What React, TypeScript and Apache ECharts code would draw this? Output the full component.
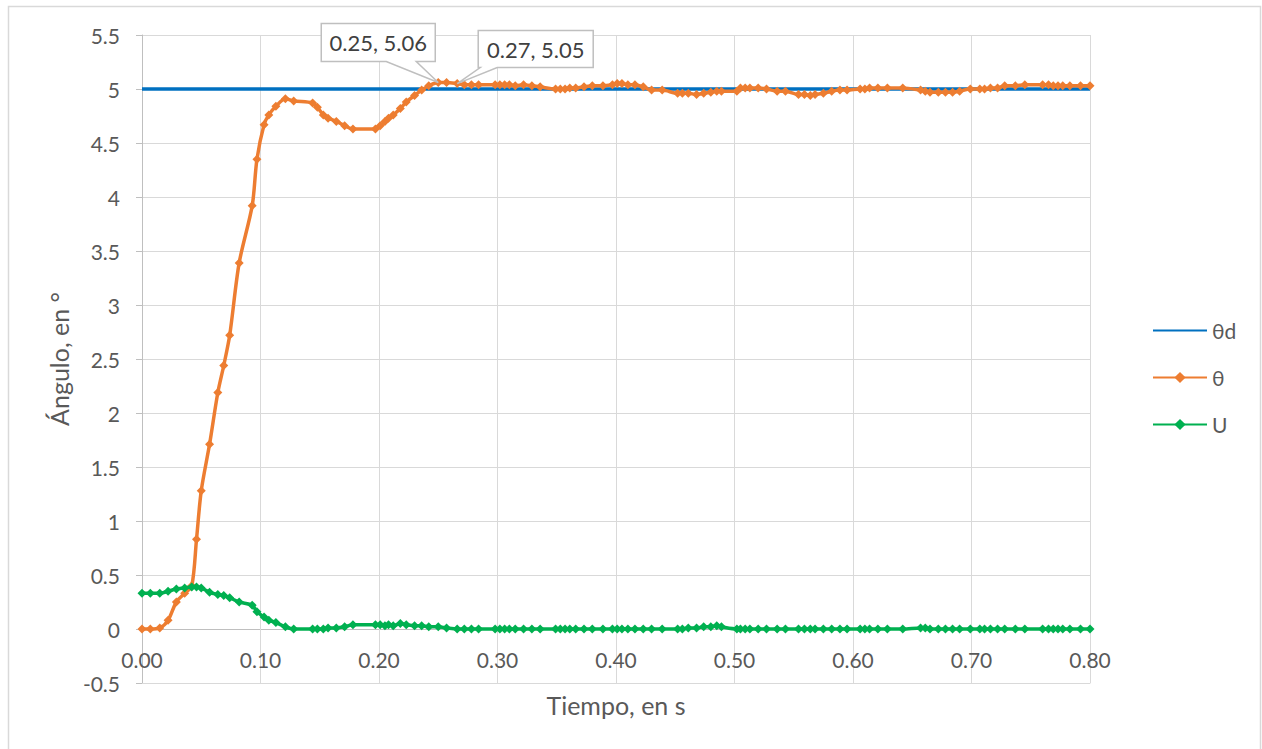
import React, { useEffect, useRef } from "react";
import * as echarts from "echarts";

// Time samples (s)
const T = [
  0.000, 0.007, 0.015, 0.022, 0.029, 0.036, 0.042, 0.046, 0.050, 0.057, 0.064, 0.069, 0.074, 0.082, 0.093, 0.097, 0.103, 0.107, 0.113, 0.121, 0.128,
  0.144, 0.148, 0.153, 0.157, 0.164, 0.171, 0.178, 0.197, 0.201, 0.205, 0.208, 0.212, 0.218, 0.223, 0.230, 0.236, 0.242, 0.250, 0.257, 0.266, 0.272, 0.278, 0.284,
  0.298, 0.302, 0.306, 0.310, 0.315, 0.322, 0.329, 0.336,
  0.349, 0.353, 0.357, 0.361, 0.366, 0.373, 0.380, 0.389,
  0.397, 0.401, 0.405, 0.410, 0.416, 0.423, 0.430, 0.439,
  0.452, 0.456, 0.461, 0.468, 0.474, 0.480, 0.485, 0.489,
  0.502, 0.505, 0.509, 0.513, 0.520, 0.527, 0.536, 0.543, 0.554, 0.559, 0.564, 0.568, 0.575, 0.582, 0.589, 0.595,
  0.606, 0.610, 0.614, 0.621, 0.629, 0.642,
  0.657, 0.661, 0.665, 0.672, 0.678, 0.684, 0.690, 0.699,
  0.707, 0.711, 0.716, 0.722, 0.728, 0.737, 0.745,
  0.760, 0.765, 0.769, 0.773, 0.777, 0.783, 0.792, 0.800,
];

// Measured angle θ (°)
const THETA = [
  0.00, 0.00, 0.01, 0.08, 0.25, 0.33, 0.40, 0.83, 1.28, 1.71, 2.19, 2.44, 2.72, 3.39, 3.92, 4.35, 4.67, 4.76, 4.84, 4.91, 4.89,
  4.87, 4.83, 4.76, 4.73, 4.70, 4.66, 4.63, 4.63, 4.66, 4.70, 4.73, 4.76, 4.82, 4.88, 4.94, 4.99, 5.03, 5.06, 5.06, 5.05, 5.04, 5.04, 5.04,
  5.04, 5.04, 5.04, 5.04, 5.03, 5.04, 5.03, 5.02,
  5.00, 5.00, 5.00, 5.01, 5.01, 5.02, 5.03, 5.03,
  5.04, 5.05, 5.05, 5.04, 5.04, 5.02, 4.99, 4.99,
  4.96, 4.96, 4.96, 4.95, 4.96, 4.97, 4.98, 4.98,
  4.98, 5.01, 5.01, 5.01, 5.01, 5.00, 4.98, 4.98, 4.95, 4.95, 4.94, 4.95, 4.96, 4.98, 4.99, 4.99,
  5.00, 5.00, 5.01, 5.01, 5.01, 5.01,
  4.99, 4.98, 4.97, 4.97, 4.97, 4.97, 4.98, 5.00,
  5.00, 5.00, 5.01, 5.01, 5.03, 5.03, 5.04,
  5.04, 5.04, 5.03, 5.03, 5.03, 5.03, 5.03, 5.03,
];

// Control signal U
const U = [
  0.33, 0.33, 0.33, 0.35, 0.37, 0.38, 0.39, 0.39, 0.38, 0.34, 0.32, 0.31, 0.29, 0.25, 0.22, 0.16, 0.11, 0.08, 0.06, 0.02, 0.00,
  0.00, 0.00, 0.00, 0.01, 0.01, 0.02, 0.04, 0.04, 0.04, 0.03, 0.04, 0.03, 0.05, 0.04, 0.03, 0.03, 0.02, 0.02, 0.01, 0.00, 0.00, 0.00, 0.00,
  0.00, 0.00, 0.00, 0.00, 0.00, 0.00, 0.00, 0.00,
  0.00, 0.00, 0.00, 0.00, 0.00, 0.00, 0.00, 0.00,
  0.00, 0.00, 0.00, 0.00, 0.00, 0.00, 0.00, 0.00,
  0.00, 0.00, 0.01, 0.01, 0.02, 0.02, 0.03, 0.02,
  0.00, 0.00, 0.00, 0.00, 0.00, 0.00, 0.00, 0.00, 0.00, 0.00, 0.00, 0.00, 0.00, 0.00, 0.00, 0.00,
  0.00, 0.00, 0.00, 0.00, 0.00, 0.00,
  0.01, 0.01, 0.00, 0.00, 0.00, 0.00, 0.00, 0.00,
  0.00, 0.00, 0.00, 0.00, 0.00, 0.00, 0.00,
  0.00, 0.00, 0.00, 0.00, 0.00, 0.00, 0.00, 0.00,
];

// Setpoint θd
const THETA_D_T = [0.0, 0.8];
const THETA_D = [5, 5];

// Annotated points (times)
const ANNOTATED_T = [0.25, 0.266];

const SERIES_NAMES = ["θd", "θ", "U"];
const X_TITLE = "Tiempo, en s";
const Y_TITLE = "Ángulo, en °";

export default function App() {
  const ref = useRef<HTMLDivElement>(null);

  useEffect(() => {
    const chart = echarts.init(ref.current!, null, { renderer: "svg" });
    const font = "Lato, 'Liberation Sans', sans-serif";
    const grey = "#595959";
    const axisGrey = "#bfbfbf";
    const gridGrey = "#d9d9d9";

    chart.setOption({
      animation: false,
      backgroundColor: "#ffffff",
      textStyle: { fontFamily: font },
      grid: {
        left: 142,
        right: 172,
        top: 35,
        bottom: 66,
        containLabel: false,
        outerBoundsMode: "none",
      },
      legend: {
        orient: "vertical",
        left: 1147,
        top: 315,
        padding: 5,
        itemWidth: 54,
        itemHeight: 14,
        itemGap: 26,
        textStyle: { fontFamily: font, fontSize: 21, color: grey },
        data: [
          { name: SERIES_NAMES[0], itemStyle: { opacity: 0, color: "rgba(0,0,0,0)", borderColor: "rgba(0,0,0,0)" } },
          SERIES_NAMES[1],
          SERIES_NAMES[2],
        ],
      },
      xAxis: {
        type: "value",
        min: 0,
        max: 0.8,
        interval: 0.1,
        name: X_TITLE,
        nameLocation: "middle",
        nameGap: 9,
        nameTextStyle: { fontFamily: font, fontSize: 25, color: grey },
        axisLine: { onZero: false, lineStyle: { color: gridGrey, width: 1 } },
        axisTick: { show: false },
        axisLabel: {
          inside: true,
          margin: 13,
          fontFamily: font,
          fontSize: 21,
          color: grey,
          formatter: (v: number) => v.toFixed(2),
        },
        splitLine: { show: true, lineStyle: { color: gridGrey, width: 1 } },
      },
      yAxis: {
        type: "value",
        min: -0.5,
        max: 5.5,
        interval: 0.5,
        name: Y_TITLE,
        nameLocation: "middle",
        nameGap: 66,
        nameTextStyle: { fontFamily: font, fontSize: 25, color: grey },
        axisLine: { show: true, onZero: false, lineStyle: { color: axisGrey, width: 1 } },
        axisTick: { show: true, length: 6, lineStyle: { color: axisGrey } },
        axisLabel: { margin: 22, fontFamily: font, fontSize: 21, color: grey },
        splitLine: {
          show: true,
          lineStyle: {
            color: [gridGrey, axisGrey, gridGrey, gridGrey, gridGrey, gridGrey, gridGrey, gridGrey, gridGrey, gridGrey, gridGrey, gridGrey, gridGrey],
            width: 1,
          },
        },
      },
      series: [
        {
          name: SERIES_NAMES[0],
          type: "line",
          symbol: "none",
          data: THETA_D_T.map((t, i) => [t, THETA_D[i]]),
          lineStyle: { color: "#0070C0", width: 3.5 },
          itemStyle: { color: "#0070C0" },
          z: 2,
        },
        {
          name: SERIES_NAMES[1],
          type: "line",
          symbol: "diamond",
          symbolSize: 9,
          smooth: 0.3,
          data: T.map((t, i) => [t, THETA[i]]),
          lineStyle: { color: "#ED7D31", width: 3.5 },
          itemStyle: { color: "#ED7D31" },
          z: 3,
        },
        {
          name: SERIES_NAMES[2],
          type: "line",
          symbol: "diamond",
          symbolSize: 9,
          smooth: 0.3,
          data: T.map((t, i) => [t, U[i]]),
          lineStyle: { color: "#00B050", width: 3.5 },
          itemStyle: { color: "#00B050" },
          z: 4,
        },
      ],
    });

    // Callout annotations, positioned from data points
    const boxes = [
      { left: -117, right: -3, top: -59, bottom: -21, wl: -52, wr: -22 },
      { left: 21, right: 136, top: -53, bottom: -16, wl: 23, wr: 40 },
    ];
    const graphics: any[] = [
      {
        type: "rect",
        shape: { x: 8.5, y: 6.5, width: 1252, height: 760 },
        style: { fill: "none", stroke: gridGrey, lineWidth: 1.5 },
        silent: true,
        z: 0,
      },
    ];
    ANNOTATED_T.forEach((at, k) => {
      const idx = T.indexOf(at);
      if (idx < 0) return;
      const [px, py] = chart.convertToPixel({ gridIndex: 0 }, [T[idx], THETA[idx]]) as number[];
      const b = boxes[k];
      const L = px + b.left, R = px + b.right, Tp = py + b.top, B = py + b.bottom;
      const pts = [[L, Tp], [R, Tp], [R, B], [px + b.wr, B], [px, py], [px + b.wl, B], [L, B]];
      graphics.push({
        type: "polygon",
        shape: { points: pts },
        style: { fill: "#ffffff", stroke: axisGrey, lineWidth: 1.5 },
        z: 100,
      });
      graphics.push({
        type: "text",
        x: (L + R) / 2,
        y: (Tp + B) / 2,
        style: {
          text: `${T[idx].toFixed(2)}, ${THETA[idx].toFixed(2)}`,
          font: `22px ${font}`,
          fill: "#404040",
          textAlign: "center",
          textVerticalAlign: "middle",
        },
        z: 101,
      });
    });
    chart.setOption({ graphic: graphics });

    return () => chart.dispose();
  }, []);

  return (
    <div
      ref={ref}
      style={{ position: "absolute", left: 0, top: 0, width: 1262, height: 749 }}
    />
  );
}
